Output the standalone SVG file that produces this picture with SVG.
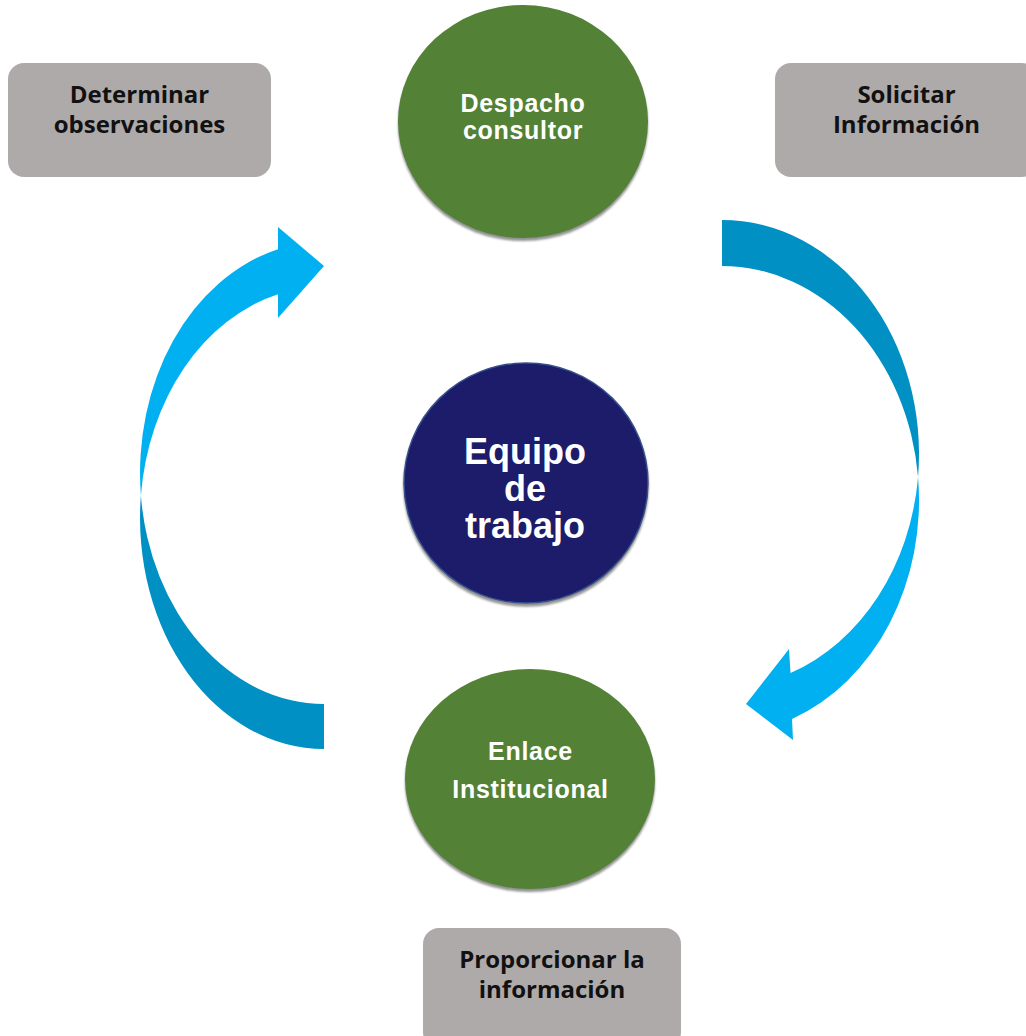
<svg xmlns="http://www.w3.org/2000/svg" width="1026" height="1036" viewBox="0 0 1026 1036">
  <style>
    .box { fill: #AEAAAA; }
    .boxtxt { font-family: "Open Sans", "DejaVu Sans", sans-serif; font-weight: 700; font-size: 24px; fill: #111111; text-anchor: middle; }
    .green { fill: #538135; }
    .navy { fill: #1B1A6B; stroke: #34508A; stroke-width: 1.5; }
    .ctxt { font-family: "Liberation Sans", Arial, sans-serif; font-weight: 700; fill: #FFFFFF; text-anchor: middle; }
    .sm { font-size: 25px; letter-spacing: 0.7px; }
    .lg { font-size: 36px; }
    .light { fill: #00B0F0; }
    .dark { fill: #0090C4; }
  </style>
  <defs>
    <filter id="shadow" x="-10%" y="-10%" width="120%" height="125%">
      <feGaussianBlur in="SourceAlpha" stdDeviation="1.2"/>
      <feOffset dx="0" dy="3" result="b"/>
      <feFlood flood-color="#7f7f7f" flood-opacity="0.85"/>
      <feComposite in2="b" operator="in"/>
      <feMerge><feMergeNode/><feMergeNode in="SourceGraphic"/></feMerge>
    </filter>
  </defs>
  <rect width="1026" height="1036" fill="#FFFFFF"/>

  <g id="connectors">
    <g id="arrow-left">
      <path class="dark" d="M 140.9 495.5 A 184 231 0 0 0 324 749 L 324 704 A 184 231 0 0 1 140.9 495.5 Z"/>
      <path class="light" d="M 278 249.3 A 184 231 0 0 0 140.9 495.5 A 184 231 0 0 1 278 294.3 L 278 318 L 324 266 L 278 227 Z"/>
    </g>
    <g id="arrow-right">
      <path class="dark" d="M 722 220 A 197 234 0 0 1 918.05 477 A 197 234 0 0 0 722 266 Z"/>
      <path class="light" d="M 918.05 477 A 197 234 0 0 1 792 719 L 793 740 L 746 704 L 789 649 L 790.5 673 A 197 234 0 0 0 918.05 477 Z"/>
    </g>
  </g>

  <g id="node-determinar">
    <rect class="box" x="8" y="63" width="263" height="114" rx="16"/>
    <text class="boxtxt" x="139.5" y="103">Determinar</text>
    <text class="boxtxt" x="139.5" y="133">observaciones</text>
  </g>
  <g id="node-solicitar">
    <rect class="box" x="775" y="63" width="263" height="114" rx="16"/>
    <text class="boxtxt" x="906.5" y="103">Solicitar</text>
    <text class="boxtxt" x="906.5" y="133">Información</text>
  </g>
  <g id="node-proporcionar">
    <rect class="box" x="423" y="928" width="258" height="120" rx="16"/>
    <text class="boxtxt" x="552" y="968">Proporcionar la</text>
    <text class="boxtxt" x="552" y="998">información</text>
  </g>

  <g id="node-despacho">
    <ellipse class="green" cx="523" cy="121.5" rx="125" ry="116.5" filter="url(#shadow)"/>
    <text class="ctxt sm" x="523" y="112">Despacho</text>
    <text class="ctxt sm" x="523" y="139">consultor</text>
  </g>
  <g id="node-equipo">
    <ellipse class="navy" cx="526" cy="483" rx="122" ry="120" filter="url(#shadow)"/>
    <text class="ctxt lg" x="525" y="464">Equipo</text>
    <text class="ctxt lg" x="525" y="501">de</text>
    <text class="ctxt lg" x="525" y="538">trabajo</text>
  </g>
  <g id="node-enlace">
    <ellipse class="green" cx="530" cy="779" rx="125" ry="110" filter="url(#shadow)"/>
    <text class="ctxt sm" x="530.5" y="760">Enlace</text>
    <text class="ctxt sm" x="530.5" y="798">Institucional</text>
  </g>
</svg>
